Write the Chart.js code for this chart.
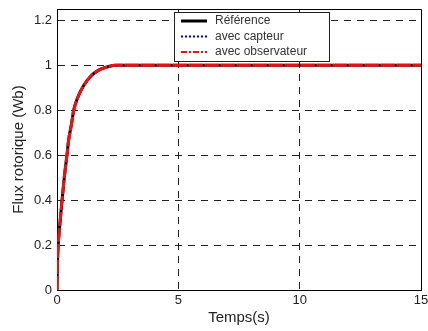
<!DOCTYPE html>
<html>
<head>
<meta charset="utf-8">
<script src="https://cdn.jsdelivr.net/npm/chart.js@4/dist/chart.umd.min.js"></script>
<style>
  body { margin: 0; background: #fff; }
  canvas { display: block; }
</style>
</head>
<body>
<canvas id="fluxChart" width="428" height="331"></canvas>
<script>
// Values
const temps = [0, 0.02, 0.05, 0.1, 0.21, 0.3, 0.41, 0.48, 0.6, 0.69, 0.85, 1.1, 1.4, 1.72, 2.0, 2.4, 3.0, 15];
const fluxReference = [0, 0.12, 0.2, 0.27, 0.4, 0.5, 0.6, 0.667, 0.74, 0.8, 0.855, 0.91, 0.952, 0.978, 0.99, 1.0, 1.0, 1.0];
const fluxCapteur = [0, 0.12, 0.2, 0.27, 0.4, 0.5, 0.6, 0.667, 0.74, 0.8, 0.855, 0.91, 0.952, 0.978, 0.99, 1.0, 1.0, 1.0];
const fluxObservateur = [0, 0.12, 0.2, 0.27, 0.4, 0.5, 0.6, 0.667, 0.74, 0.8, 0.855, 0.91, 0.952, 0.978, 0.99, 1.0, 1.0, 1.0];
const xTicks = [0, 5, 10, 15];
const yTicks = [0, 0.2, 0.4, 0.6, 0.8, 1, 1.2];
const legendLabels = ['Référence', 'avec capteur', 'avec observateur'];

const toPoints = ys => ys.map((y, i) => ({ x: temps[i], y: y }));
const FONT = '"Liberation Sans", Arial, sans-serif';

// box around the plot and the legend in the upper middle
const frameAndLegend = {
  id: 'frameAndLegend',
  afterDraw(chart) {
    const ctx = chart.ctx;
    const a = chart.chartArea;
    ctx.save();
    ctx.strokeStyle = '#000';
    ctx.lineWidth = 1;
    ctx.beginPath();
    ctx.moveTo(a.left, a.top + 0.5);
    ctx.lineTo(a.right + 0.5, a.top + 0.5);
    ctx.lineTo(a.right + 0.5, a.bottom);
    ctx.stroke();

    const bx = 174, by = 12, bw = 155, bh = 49;
    ctx.fillStyle = '#fff';
    ctx.fillRect(bx, by, bw, bh);
    ctx.strokeStyle = '#222';
    ctx.strokeRect(bx + 0.5, by + 0.5, bw, bh);
    ctx.font = '12px ' + FONT;
    ctx.textBaseline = 'middle';
    chart.data.datasets.forEach((ds, i) => {
      const y = by + 9 + i * 15.5;
      ctx.strokeStyle = ds.borderColor;
      ctx.lineWidth = i === 0 ? 3 : 2;
      ctx.setLineDash(i === 2 ? [6, 2, 2, 2] : (ds.borderDash || []));
      ctx.beginPath();
      ctx.moveTo(bx + 7, y);
      ctx.lineTo(bx + 33, y);
      ctx.stroke();
      ctx.setLineDash([]);
      ctx.fillStyle = '#333';
      ctx.fillText(legendLabels[i], bx + 41, y);
    });
    ctx.restore();
  }
};

new Chart(document.getElementById('fluxChart'), {
  type: 'line',
  data: {
    datasets: [
      { label: legendLabels[0], data: toPoints(fluxReference), borderColor: '#000', borderWidth: 3, order: 2 },
      { label: legendLabels[1], data: toPoints(fluxCapteur), borderColor: '#0000cc', borderWidth: 2, borderDash: [2, 2], order: 1 },
      { label: legendLabels[2], data: toPoints(fluxObservateur), borderColor: '#ee1111', borderWidth: 3, borderDash: [14, 2], order: 0 }
    ]
  },
  options: {
    responsive: false,
    animation: false,
    layout: { padding: { left: 0, top: 9, right: 7, bottom: 0 } },
    elements: {
      point: { radius: 0 },
      line: { cubicInterpolationMode: 'monotone', fill: false }
    },
    plugins: {
      legend: { display: false },
      tooltip: { enabled: false }
    },
    scales: {
      x: {
        type: 'linear',
        min: 0,
        max: 15,
        afterBuildTicks: axis => { axis.ticks = xTicks.map(v => ({ value: v })); },
        afterFit: axis => { axis.height = 41; axis.paddingLeft = 0; axis.paddingRight = 0; },
        grid: {
          drawTicks: false,
          color: c => (c.tick.value === 0 || c.tick.value === 15) ? 'transparent' : '#222'
        },
        border: { color: '#000', width: 1, dash: [7, 6] },
        ticks: {
          padding: 3,
          color: '#222',
          font: { family: FONT, size: 13 },
          maxRotation: 0,
          callback: v => String(v)
        },
        title: {
          display: true,
          text: 'Temps(s)',
          color: '#222',
          font: { family: FONT, size: 15 },
          padding: { top: 4, bottom: 4 }
        }
      },
      y: {
        type: 'linear',
        min: 0,
        max: 1.25,
        afterBuildTicks: axis => { axis.ticks = yTicks.map(v => ({ value: v })); },
        afterFit: axis => { axis.width = 57; axis.paddingTop = 0; axis.paddingBottom = 0; },
        grid: {
          drawTicks: false,
          color: c => c.tick.value === 0 ? 'transparent' : '#222'
        },
        border: { color: '#000', width: 1, dash: [7, 6] },
        ticks: {
          padding: 5,
          color: '#222',
          font: { family: FONT, size: 13 },
          callback: v => String(v)
        },
        title: {
          display: true,
          text: 'Flux rotorique (Wb)',
          color: '#222',
          font: { family: FONT, size: 15 },
          padding: { top: 10, bottom: 4 }
        }
      }
    }
  },
  plugins: [frameAndLegend]
});
</script>
</body>
</html>
